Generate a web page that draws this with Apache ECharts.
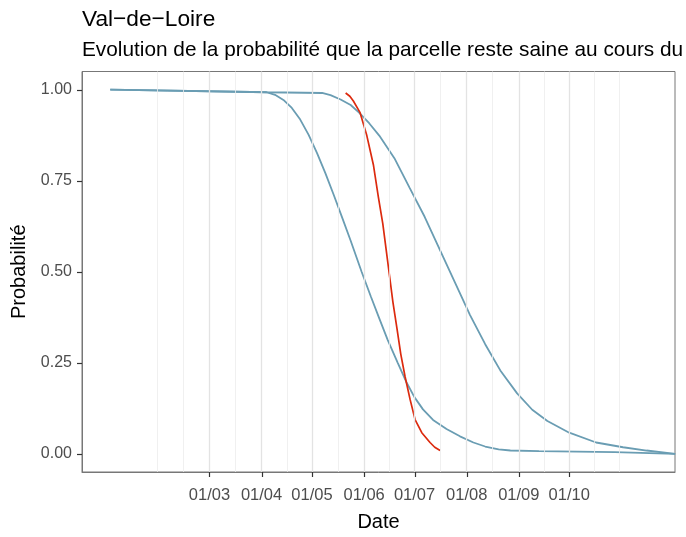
<!DOCTYPE html>
<html>
<head>
<meta charset="utf-8">
<script src="https://cdn.jsdelivr.net/npm/echarts@6/dist/echarts.min.js"></script>
<style>html,body{margin:0;padding:0;background:#fff}#c{width:686px;height:537px}</style>
</head>
<body>
<div id="c"></div>
<script>
// x values are day-of-year (0 = 1 January)
const monthTickDays = [59, 90, 120, 151, 181, 212, 243, 273];
const monthTickLabels = ['01/03', '01/04', '01/05', '01/06', '01/07', '01/08', '01/09', '01/10'];
const minorGridDays = [28, 43.5, 74.5, 105, 135.5, 166, 196.5, 227.5, 258, 288, 303];
const yTicks = [0, 0.25, 0.5, 0.75, 1];

const curveADays = [0, 93, 98, 103, 108, 113, 118, 123, 128, 133, 138, 143, 149.5, 155, 160, 165, 171, 176, 181, 186, 192, 200, 208, 216, 223, 231, 238, 255, 300, 336];
const curveAProb = [1.000, 0.993, 0.986, 0.972, 0.950, 0.918, 0.876, 0.826, 0.770, 0.710, 0.648, 0.585, 0.500, 0.432, 0.372, 0.313, 0.250, 0.198, 0.155, 0.122, 0.093, 0.068, 0.048, 0.031, 0.020, 0.012, 0.009, 0.0073, 0.0046, 0.0];

const curveBDays = [0, 93, 126, 131, 137, 143, 148, 154, 160, 169, 178, 187, 196, 205, 214, 223, 232, 242, 251, 260, 273, 289, 305, 319, 336];
const curveBProb = [1.000, 0.993, 0.991, 0.985, 0.973, 0.958, 0.937, 0.908, 0.874, 0.812, 0.731, 0.651, 0.561, 0.471, 0.381, 0.301, 0.229, 0.166, 0.121, 0.090, 0.058, 0.031, 0.018, 0.009, 0.0];

const redDays = [140, 142.5, 144.6, 148.6, 152.6, 156.5, 159.5, 162.1, 164.1, 166.1, 168.1, 170.5, 172.8, 175.4, 178.4, 181.3, 185.3, 190.2, 193, 196.2];
const redProb = [0.991, 0.982, 0.969, 0.937, 0.874, 0.794, 0.704, 0.632, 0.561, 0.489, 0.417, 0.345, 0.274, 0.211, 0.148, 0.094, 0.058, 0.031, 0.018, 0.009];

const zip = (xs, ys) => xs.map((x, i) => [x, ys[i]]);
const FONT = "'Liberation Sans', Arial, Helvetica, sans-serif";
const BLUE = '#6a9db3';
const RED = '#dc2a0e';

const X_MIN = -16.8, X_MAX = 335.9, Y_MIN = -0.05, Y_MAX = 1.05;
const TICK_PX = 5;

const chart = echarts.init(document.getElementById('c'), null, {renderer: 'canvas'});
chart.setOption({
  animation: false,
  backgroundColor: '#ffffff',
  title: [
    {text: 'Val\u2212de\u2212Loire', left: 77, top: 3,
     textStyle: {fontFamily: FONT, fontSize: 22.7, fontWeight: 'normal', color: '#000'}},
    {text: 'Evolution de la probabilité que la parcelle reste saine au cours du', left: 77, top: 35,
     textStyle: {fontFamily: FONT, fontSize: 20.8, fontWeight: 'normal', color: '#000'}}
  ],
  grid: {left: 82, right: 11, top: 71.5, bottom: 57, show: true, borderColor: '#777', borderWidth: 1, backgroundColor: 'transparent'},
  xAxis: {
    type: 'value', min: X_MIN, max: X_MAX,
    name: 'Date', nameLocation: 'middle', nameGap: 40,
    nameTextStyle: {fontFamily: FONT, fontSize: 20, color: '#000'},
    axisLine: {show: true, onZero: false, lineStyle: {color: '#777', width: 1}},
    axisTick: {show: false},
    axisLabel: {customValues: monthTickDays, fontFamily: FONT, fontSize: 16.5, color: '#4d4d4d', margin: 15,
      formatter: v => { const i = monthTickDays.indexOf(v); return i >= 0 ? monthTickLabels[i] : ''; }},
    splitLine: {show: false}
  },
  yAxis: {
    type: 'value', min: Y_MIN, max: Y_MAX,
    name: 'Probabilité', nameLocation: 'middle', nameGap: 50, nameRotate: 90,
    nameTextStyle: {fontFamily: FONT, fontSize: 20, color: '#000'},
    axisLine: {show: true, onZero: false, lineStyle: {color: '#777', width: 1}},
    axisTick: {show: false},
    axisLabel: {customValues: yTicks, fontFamily: FONT, fontSize: 16, color: '#4d4d4d', margin: 10,
      formatter: v => v.toFixed(2)},
    splitLine: {show: false}
  },
  series: [
    {type: 'line', data: [], silent: true, z: 1,
     markLine: {silent: true, symbol: 'none', animation: false, label: {show: false},
       lineStyle: {color: '#ececec', width: 0.8, type: 'solid'},
       data: minorGridDays.map(d => ({xAxis: d}))}},
    {type: 'line', data: [], silent: true, z: 1,
     markLine: {silent: true, symbol: 'none', animation: false, label: {show: false},
       lineStyle: {color: '#e3e3e3', width: 1.3, type: 'solid'},
       data: monthTickDays.map(d => ({xAxis: d}))}},
    {type: 'line', name: 'A', data: zip(curveADays, curveAProb), showSymbol: false, z: 3,
     lineStyle: {color: BLUE, width: 1.8}, itemStyle: {color: BLUE}},
    {type: 'line', name: 'B', data: zip(curveBDays, curveBProb), showSymbol: false, z: 3,
     lineStyle: {color: BLUE, width: 1.8}, itemStyle: {color: BLUE}},
    {type: 'line', name: 'obs', data: zip(redDays, redProb), showSymbol: false, z: 4,
     lineStyle: {color: RED, width: 1.7}, itemStyle: {color: RED}}
  ]
});

// Axis tick marks, positioned through the chart's own axis scales
const tickStyle = {stroke: '#333', lineWidth: 1.2};
const tickGraphics = [];
monthTickDays.forEach(d => {
  const p = chart.convertToPixel({gridIndex: 0}, [d, Y_MIN]);
  tickGraphics.push({type: 'line', silent: true, z: 10,
    shape: {x1: Math.round(p[0]) + 0.5, y1: p[1], x2: Math.round(p[0]) + 0.5, y2: p[1] + TICK_PX}, style: tickStyle});
});
yTicks.forEach(v => {
  const p = chart.convertToPixel({gridIndex: 0}, [X_MIN, v]);
  tickGraphics.push({type: 'line', silent: true, z: 10,
    shape: {x1: p[0], y1: Math.round(p[1]) + 0.5, x2: p[0] - TICK_PX, y2: Math.round(p[1]) + 0.5}, style: tickStyle});
});
chart.setOption({graphic: tickGraphics});
</script>
</body>
</html>
